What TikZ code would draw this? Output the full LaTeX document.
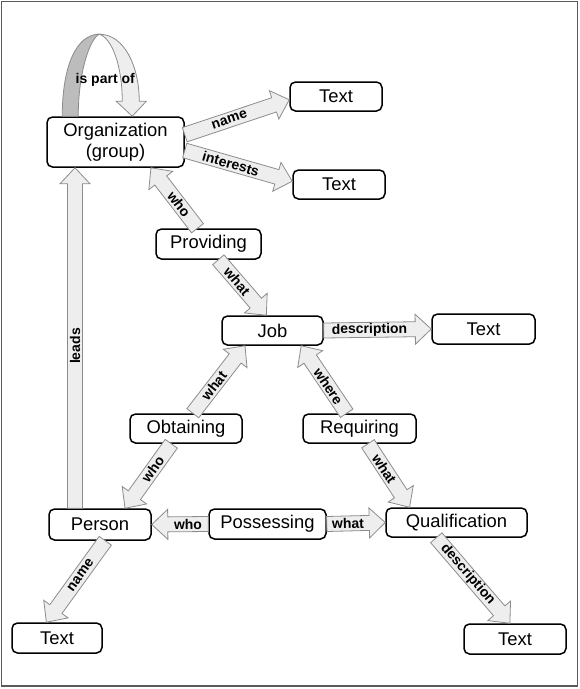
\documentclass[tikz,border=0pt]{standalone}
\usepackage{fontspec}
\setmainfont{Liberation Sans}
\usetikzlibrary{calc}
\definecolor{arrowFill}{RGB}{238, 238, 238}
\definecolor{arrowLine}{RGB}{140, 140, 140}
\definecolor{loopShade}{RGB}{188, 188, 188}
\definecolor{frameLine}{RGB}{90, 90, 90}

\tikzset{
  box/.style={draw=black, line width=1.5pt, rounded corners=5.5pt, fill=white,
    align=center, inner sep=0pt, font=\fontsize{18.4}{21.5}\selectfont},
  flowarr/.style={draw=arrowLine, fill=arrowFill, line width=0.8pt, line join=miter},
  arrowlabel/.style={font=\bfseries\fontsize{14}{14}\selectfont, inner sep=0pt},
}

% block arrow: start, tip, label, label name
\newcommand{\flowarrow}[4]{%
  \draw[flowarr] let \p1=($(#2)-(#1)$), \n1={atan2(\y1,\x1)}, \n2={veclen(\x1,\y1)} in
    ($(#1)+(\n1+90:7.5pt)$) --
    ($(#1)+(\n1:\n2-16pt)+(\n1+90:7.5pt)$) --
    ($(#1)+(\n1:\n2-16pt)+(\n1+90:15pt)$) --
    (#2) --
    ($(#1)+(\n1:\n2-16pt)+(\n1-90:15pt)$) --
    ($(#1)+(\n1:\n2-16pt)+(\n1-90:7.5pt)$) --
    ($(#1)+(\n1-90:7.5pt)$) -- cycle;
  \path (#1) -- ($(#2)!16pt!(#1)$) node[midway, sloped, arrowlabel] (#4) {#3};
}

\begin{document}
\begin{tikzpicture}[x=1pt, y=-1pt]
  \useasboundingbox (0,0) rectangle (580,689);
  \draw[frameLine, line width=1.2pt] (1.5,1.5) rectangle (577.5,686);

  % nodes
  \node[box, minimum width=137pt, minimum height=50pt] (org) at (115.5,142) {Organization\\(group)};
  \node[box, minimum width=92pt, minimum height=29pt] (tname) at (336,96.5) {Text};
  \node[box, minimum width=92pt, minimum height=29pt] (tint) at (339,184.5) {Text};
  \node[box, minimum width=105pt, minimum height=30pt] (prov) at (208.5,244) {Providing};
  \node[box, minimum width=101pt, minimum height=29pt] (job) at (272.5,330.5) {Job};
  \node[box, minimum width=103pt, minimum height=30pt] (tjob) at (483.5,329) {Text};
  \node[box, minimum width=112pt, minimum height=29pt] (obt) at (186,428.5) {Obtaining};
  \node[box, minimum width=113pt, minimum height=29pt] (req) at (359.5,428.5) {Requiring};
  \node[box, minimum width=102pt, minimum height=31pt] (per) at (100,524.5) {Person};
  \node[box, minimum width=117pt, minimum height=30pt] (poss) at (267.5,524) {Possessing};
  \node[box, minimum width=141pt, minimum height=29pt] (qual) at (456.5,522.5) {Qualification};
  \node[box, minimum width=90pt, minimum height=30pt] (tper) at (57,638) {Text};
  \node[box, minimum width=102pt, minimum height=30pt] (tqual) at (515,639) {Text};

  % self loop on the organization
  \begin{scope}[shift={(org.north west)}]
    \draw[flowarr, fill=loopShade] (16,0) .. controls (16,-50) and (30,-82) .. (53,-82)
      .. controls (44,-78) and (32,-45) .. (32,0) -- cycle;
    \draw[flowarr] (53,-82) .. controls (78,-82) and (93,-50) .. (93,-15) -- (100,-15)
      -- (86,0) -- (70,-15) -- (76,-15) .. controls (76,-50) and (66,-78) .. (53,-82) -- cycle;
    \node[arrowlabel] (lpartof) at (59,-36) {is part of};
  \end{scope}

  % connectors
  \coordinate (leadfoot) at ([xshift=-25pt]per.north);
  \coordinate (leadtip) at ([xshift=-40.5pt]org.south);
  \flowarrow{org.6}{tname.184}{name}{lorgname}
  \flowarrow{org.353}{tint.176}{interests}{linterests}
  \flowarrow{prov.125}{org.324}{who}{lprovwho}
  \flowarrow{prov.302}{job.112}{what}{lprovwhat}
  \flowarrow{job.east}{tjob.west}{description}{ljobdesc}
  \flowarrow{obt.66}{job.209}{what}{lobtwhat}
  \flowarrow{obt.226}{per.33}{who}{lobtwho}
  \flowarrow{req.130}{job.332}{where}{lreqwhere}
  \flowarrow{req.299}{qual.162}{what}{lreqwhat}
  \flowarrow{poss.west}{per.east}{who}{lposswho}
  \flowarrow{poss.east}{qual.west}{what}{lposswhat}
  \flowarrow{leadfoot}{leadtip}{leads}{lleads}
  \flowarrow{per.288}{tper.124}{name}{lpername}
  \flowarrow{qual.217}{tqual.108}{description}{lqualdesc}
\end{tikzpicture}
\end{document}
